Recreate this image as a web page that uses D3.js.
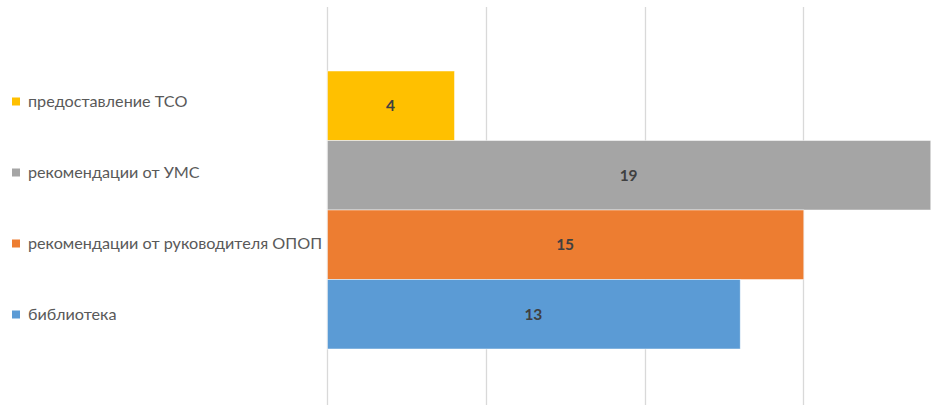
<!DOCTYPE html>
<html>
<head>
<meta charset="utf-8">
<script src="https://cdn.jsdelivr.net/npm/d3@7"></script>
<style>
  html, body { margin: 0; padding: 0; background: #fff; }
  svg { display: block; }
</style>
</head>
<body>
<svg id="chart" width="949" height="405"></svg>
<script>
// Sources named by respondents (count of answers)
const categories = [
  "предоставление ТСО",
  "рекомендации от УМС",
  "рекомендации от руководителя ОПОП",
  "библиотека"
];
const values = [4, 19, 15, 13];
const colors = ["#FFC000", "#A5A5A5", "#ED7D31", "#5B9BD5"];
const gridTicks = [0, 5, 10, 15, 20];

const svg = d3.select("#chart");
const W = 949, H = 405;

// plot area (extends past the right edge of the frame)
const plot = { left: 327, right: 962, top: 7, bottom: 413 };

const x = d3.scaleLinear().domain([0, 20]).range([plot.left, plot.right]);
const y = d3.scaleBand()
  .domain(categories)
  .range([71, 349])
  .paddingInner(0)
  .paddingOuter(0);

// vertical gridlines
svg.append("g")
  .selectAll("line")
  .data(gridTicks)
  .join("line")
  .attr("x1", d => Math.round(x(d)) + 0.5)
  .attr("x2", d => Math.round(x(d)) + 0.5)
  .attr("y1", plot.top)
  .attr("y2", H)
  .attr("stroke", "#D9D9D9")
  .attr("stroke-width", 1.3);

// bars
svg.append("g")
  .selectAll("rect")
  .data(categories)
  .join("rect")
  .attr("x", x(0) + 0.5)
  .attr("y", d => y(d))
  .attr("width", (d, i) => x(values[i]) - x(0))
  .attr("height", y.bandwidth())
  .attr("fill", (d, i) => colors[i])
  .attr("stroke", "#ffffff")
  .attr("stroke-opacity", 0.6)
  .attr("stroke-width", 0.8);

// value labels
svg.append("g")
  .selectAll("text")
  .data(categories)
  .join("text")
  .attr("x", (d, i) => (x(0) + x(values[i])) / 2)
  .attr("y", d => y(d) + y.bandwidth() / 2)
  .attr("dy", "0.36em")
  .attr("text-anchor", "middle")
  .attr("font-family", "Lato, 'Open Sans', sans-serif")
  .attr("font-size", 15.5)
  .attr("font-weight", 700)
  .attr("fill", "#404040")
  .text((d, i) => values[i]);

// legend on the left
const legendY = d3.scalePoint().domain(categories).range([101.5, 314.5]);
const legend = svg.append("g")
  .selectAll("g")
  .data(categories)
  .join("g")
  .attr("transform", d => `translate(0,${legendY(d)})`);

legend.append("rect")
  .attr("x", 12)
  .attr("y", -4)
  .attr("width", 8)
  .attr("height", 8)
  .attr("fill", (d, i) => colors[i]);

legend.append("text")
  .attr("x", 28)
  .attr("y", 0)
  .attr("dy", "0.35em")
  .attr("font-family", "Lato, 'Open Sans', sans-serif")
  .attr("font-size", 16.2)
  .attr("fill", "#595959")
  .text(d => d);
</script>
</body>
</html>
